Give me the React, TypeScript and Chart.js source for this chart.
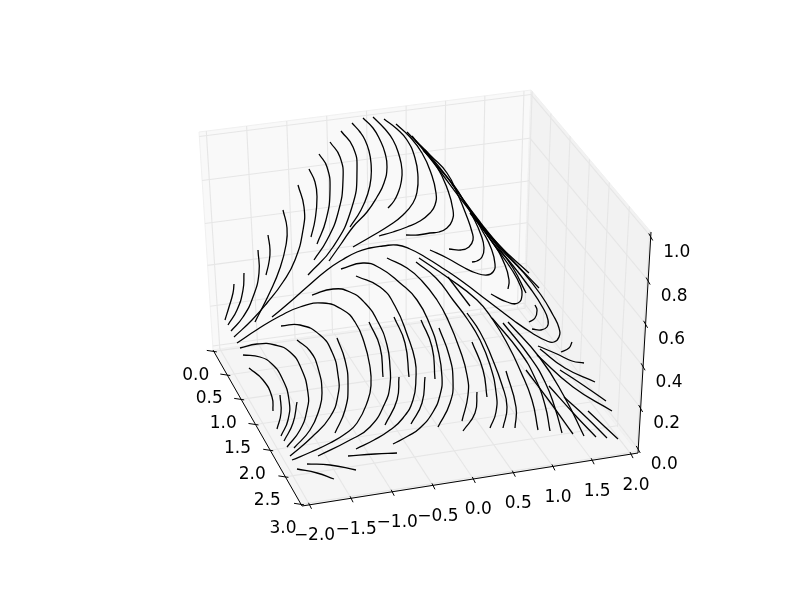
import React, { useEffect, useRef } from "react";
import { Chart, registerables } from "chart.js";

Chart.register(...registerables);

// Axis ticks
const xTicks = [0, 0.5, 1, 1.5, 2, 2.5, 3];
const yTicks = [-2, -1.5, -1, -0.5, 0, 0.5, 1, 1.5, 2];
const zTicks = [0, 0.2, 0.4, 0.6, 0.8, 1];
const xTickLabels = ["0.0", "0.5", "1.0", "1.5", "2.0", "2.5", "3.0"];
const yTickLabels = ["\u22122.0", "\u22121.5", "\u22121.0", "\u22120.5", "0.0", "0.5", "1.0", "1.5", "2.0"];
const zTickLabels = ["0.0", "0.2", "0.4", "0.6", "0.8", "1.0"];

type P = number[];

// Streamlines (projected coordinates)
const upperFan: P[][] = [
  [[225, 320], [229, 307], [233, 293], [234, 284]],
  [[228, 325], [237, 310], [243, 290], [244, 273]],
  [[231, 331], [243, 317], [253, 297], [259, 273], [258, 250]],
  [[234, 337], [252, 320], [267, 303], [283, 282], [295, 260], [303, 230], [304, 207], [298, 185]],
  [[255, 322], [270, 292], [280, 268], [286, 245], [287, 228], [283, 210]],
  [[266, 275], [269, 262], [270, 250], [268, 235]],
  [[309, 169], [315, 182], [317, 197], [315, 220], [311, 237]],
  [[319, 154], [327, 167], [330, 190], [326, 220], [317, 244]],
  [[330, 142], [340, 157], [343, 180], [338, 213], [327, 240], [314, 260]],
  [[341, 131], [353, 147], [357, 170], [352, 207], [333, 247], [308, 275]],
  [[352, 123], [360, 132], [365, 140], [369, 151], [371, 163], [371, 178], [368, 193], [361, 210], [350, 227]],
  [[363, 118], [373, 128], [380, 140], [385, 153], [387, 167], [384, 183], [377, 197], [367, 212], [353, 227], [341, 244], [329, 261]],
  [[373, 117], [384, 128], [393, 140], [399, 155], [402, 170], [401, 183], [398, 193], [394, 201], [388, 208]],
  [[384, 119], [397, 129], [407, 140], [415, 158], [418, 177], [417, 192], [413, 203], [403, 215], [390, 225], [372, 236], [353, 247]],
  [[396, 124], [410, 137], [422, 153], [431, 173], [436, 193], [435, 205], [430, 213], [420, 221], [407, 227], [393, 232], [379, 236]],
  [[407, 132], [423, 149], [437, 167], [447, 188], [453, 210], [452, 221], [447, 228], [439, 232], [430, 233], [418, 235], [406, 235]],
  [[415, 140], [431, 156], [447, 173], [458, 195], [467, 217], [472, 232], [473, 240], [469, 247], [461, 250], [449, 249]],
  [[423, 150], [439, 168], [455, 187], [465, 203], [473, 217], [481, 235], [484, 248], [482, 257], [477, 261], [472, 262]],
  [[430, 250], [447, 258], [463, 267], [476, 273], [487, 275], [493, 272], [495, 264], [491, 248], [483, 232], [470, 210], [447, 177], [425, 150]],
];

const ridge: P[][] = [
  [[412, 136], [433, 162], [467, 207], [497, 243], [529, 273]],
  [[452, 184], [480, 222], [505, 252], [539, 288]],
  [[470, 213], [493, 243], [505, 265], [509, 280], [508, 289]],
  [[470, 210], [495, 243], [513, 268], [526, 293]],
  [[475, 218], [495, 246], [512, 270], [520, 285], [522, 295], [518, 303], [507, 302], [491, 294]],
  [[467, 205], [493, 243], [510, 262], [530, 288], [543, 308], [548, 320], [547, 327], [541, 330], [532, 329]],
  [[535, 305], [537, 310], [535, 318], [529, 322]],
  [[572, 342], [569, 348], [561, 352]],
];

const bigArcs: P[][] = [
  [[272, 317], [290, 302], [307, 287], [327, 270], [342, 260], [357, 252], [370, 248], [383, 246], [397, 245], [410, 249], [425, 257], [444, 269], [463, 282], [488, 301], [513, 320], [532, 333], [547, 341], [554, 342], [559, 337], [559, 328], [553, 315], [541, 295], [523, 272], [500, 248], [470, 210]],
  [[237, 343], [258, 329], [280, 316], [300, 307], [323, 303], [343, 310], [355, 322], [364, 342], [370, 367], [371, 385], [368, 400], [357, 423], [345, 434], [330, 443], [311, 452], [292, 460]],
  [[281, 326], [300, 325], [320, 335], [332, 352], [338, 375], [338, 395], [330, 417], [312, 437], [290, 456]],
  [[297, 340], [310, 351], [318, 368], [322, 393], [319, 410], [310, 430], [294, 448]],
  [[240, 348], [257, 344], [275, 345], [290, 352], [301, 368], [308, 393], [307, 410], [300, 430], [287, 447]],
  [[243, 355], [260, 357], [272, 364], [282, 378], [289, 400], [288, 420], [281, 436]],
  [[249, 368], [263, 380], [272, 397], [273, 411]],
  [[280, 395], [281, 413], [277, 429]],
  [[297, 402], [293, 423], [284, 441]],
  [[337, 338], [345, 360], [348, 385], [345, 410], [335, 433]],
  [[312, 295], [333, 289], [350, 292], [365, 303], [378, 322], [387, 345], [390, 367], [390, 385], [385, 403], [370, 427], [350, 440], [318, 456]],
  [[356, 276], [380, 287], [395, 306], [408, 337], [415, 360], [416, 377], [413, 400], [403, 418], [390, 430], [374, 440], [356, 449]],
  [[341, 269], [363, 263], [380, 268], [400, 283], [417, 300], [430, 325], [438, 350], [442, 377], [440, 395], [433, 412], [420, 428], [408, 436], [393, 444]],
];

const lowerShort: P[][] = [
  [[369, 322], [380, 347], [383, 377]],
  [[394, 317], [405, 343], [409, 377]],
  [[421, 320], [432, 347], [435, 379]],
  [[439, 328], [449, 355], [453, 380], [450, 403], [438, 427]],
  [[399, 377], [397, 400], [385, 425]],
  [[425, 377], [422, 403], [411, 424]],
  [[477, 392], [475, 413], [463, 431]],
  [[472, 342], [483, 370], [487, 397]],
  [[448, 277], [470, 306]],
  [[506, 371], [516, 407], [515, 428]],
  [[348, 456], [375, 454], [397, 453]],
  [[307, 464], [330, 465], [356, 470]],
  [[297, 469], [317, 473], [334, 479]],
];

const lowerLong: P[][] = [
  [[387, 258], [407, 268], [422, 281], [437, 300], [448, 320], [460, 350], [467, 375], [468, 395], [462, 421]],
  [[416, 262], [436, 278], [453, 300], [468, 320], [480, 340], [490, 365], [496, 392], [496, 412], [490, 428]],
  [[467, 313], [480, 332], [492, 358], [502, 385], [507, 407], [503, 428]],
  [[419, 258], [447, 277], [477, 300], [493, 320], [508, 345], [520, 370], [532, 400], [538, 430]],
  [[492, 318], [520, 352], [535, 378], [545, 405], [550, 431]],
  [[503, 323], [530, 357], [545, 382], [555, 408], [562, 433]],
  [[526, 370], [550, 402], [573, 434]],
  [[508, 322], [540, 358], [565, 398], [584, 436]],
  [[549, 386], [575, 415], [596, 437]],
  [[564, 397], [587, 418], [607, 438]],
  [[588, 411], [604, 426], [618, 439]],
  [[538, 346], [557, 354], [572, 361], [584, 363]],
  [[537, 355], [573, 387], [612, 411]],
  [[540, 349], [565, 368], [595, 382]],
  [[560, 370], [580, 383], [606, 401]],
];

const streamlines = [...upperFan, ...ridge, ...bigArcs, ...lowerShort, ...lowerLong];

// Camera fit: where each face of the box lands on the page
const LIM = { x: [-0.03, 3.03], y: [-2.09, 2.09], z: [-0.02, 1.02] };
const floorQuad = [[213, 350], [302, 506], [638, 453], [524, 307]];
const backQuad = [[213, 350], [524, 307], [531, 90], [199, 132]];
const sideQuad = [[524, 307], [638, 453], [651, 232], [531, 90]];

function homography(q: number[][]) {
  const [[x0, y0], [x1, y1], [x2, y2], [x3, y3]] = q;
  const dx1 = x1 - x2, dx2 = x3 - x2, sx = x0 - x1 + x2 - x3;
  const dy1 = y1 - y2, dy2 = y3 - y2, sy = y0 - y1 + y2 - y3;
  const den = dx1 * dy2 - dx2 * dy1;
  const g = (sx * dy2 - dx2 * sy) / den;
  const h = (dx1 * sy - sx * dy1) / den;
  const a = x1 - x0 + g * x1, b = x3 - x0 + h * x3;
  const d = y1 - y0 + g * y1, e = y3 - y0 + h * y3;
  return (u: number, v: number) => {
    const w = g * u + h * v + 1;
    return { x: (a * u + b * v + x0) / w, y: (d * u + e * v + y0) / w };
  };
}

const nx = (v: number) => (v - LIM.x[0]) / (LIM.x[1] - LIM.x[0]);
const ny = (v: number) => (v - LIM.y[0]) / (LIM.y[1] - LIM.y[0]);
const nz = (v: number) => (v - LIM.z[0]) / (LIM.z[1] - LIM.z[0]);
const floorAt = homography(floorQuad);
const backAt = homography(backQuad);
const sideAt = homography(sideQuad);

const GRID = "#e6e6e6";
const lineDs = (data: any[], color: string, width: number, order: number, tension = 0) => ({
  data,
  showLine: true,
  borderColor: color,
  borderWidth: width,
  pointRadius: 0,
  tension,
  fill: false,
  order,
  clip: false as any,
});

function buildDatasets() {
  const out: any[] = [];
  for (const x of xTicks) {
    out.push(lineDs([floorAt(nx(x), 0), floorAt(nx(x), 1)], GRID, 1.1, 5));
    out.push(lineDs([sideAt(nx(x), 0), sideAt(nx(x), 1)], GRID, 1.1, 5));
  }
  for (const y of yTicks) {
    out.push(lineDs([floorAt(0, ny(y)), floorAt(1, ny(y))], GRID, 1.1, 5));
    out.push(lineDs([backAt(ny(y), 0), backAt(ny(y), 1)], GRID, 1.1, 5));
  }
  for (const z of zTicks) {
    out.push(lineDs([backAt(0, nz(z)), backAt(1, nz(z))], GRID, 1.1, 5));
    out.push(lineDs([sideAt(0, nz(z)), sideAt(1, nz(z))], GRID, 1.1, 5));
  }
  // Axis lines
  out.push(lineDs([floorAt(0, 0), floorAt(1, 0)], "#000", 1, 3));
  out.push(lineDs([floorAt(1, 0), floorAt(1, 1)], "#000", 1, 3));
  out.push(lineDs([sideAt(1, 0), sideAt(1, 1)], "#000", 1, 3));
  // Tick marks
  for (const x of xTicks) {
    const p = floorAt(nx(x), 0);
    out.push(lineDs([{ x: p.x - 7, y: p.y - 1 }, { x: p.x + 3, y: p.y + 0.5 }], "#000", 1, 3));
  }
  for (const y of yTicks) {
    const p = floorAt(1, ny(y));
    out.push(lineDs([{ x: p.x - 1, y: p.y - 2 }, { x: p.x + 2, y: p.y + 4 }], "#000", 1, 3));
  }
  for (const z of zTicks) {
    const p = sideAt(1, nz(z));
    out.push(lineDs([{ x: p.x - 2, y: p.y - 3 }, { x: p.x + 2, y: p.y + 4 }], "#000", 1, 3));
  }
  for (const s of streamlines) {
    out.push(lineDs(s.map(([x, y]) => ({ x, y })), "#000", 1.3, 1, 0.5));
  }
  return out;
}

const panesPlugin = {
  id: "panes",
  beforeDatasetsDraw(chart: any) {
    const { ctx, scales } = chart;
    const faces: [number[][], string][] = [
      [backQuad, "#f9f9f9"],
      [sideQuad, "#f2f2f2"],
      [floorQuad, "#f5f5f5"],
    ];
    ctx.save();
    for (const [q, color] of faces) {
      ctx.beginPath();
      q.forEach(([x, y], i) => {
        const px = scales.x.getPixelForValue(x);
        const py = scales.y.getPixelForValue(y);
        if (i === 0) ctx.moveTo(px, py);
        else ctx.lineTo(px, py);
      });
      ctx.closePath();
      ctx.fillStyle = color;
      ctx.strokeStyle = "#f0f0f0";
      ctx.lineWidth = 1;
      ctx.fill();
      ctx.stroke();
    }
    ctx.restore();
  },
};

const labelsPlugin = {
  id: "axisLabels",
  afterDatasetsDraw(chart: any) {
    const { ctx, scales } = chart;
    ctx.save();
    ctx.font = '17px "DejaVu Sans"';
    ctx.fillStyle = "#000";
    ctx.textAlign = "center";
    ctx.textBaseline = "middle";
    const put = (text: string, p: { x: number; y: number }, dx: number, dy: number) =>
      ctx.fillText(text, scales.x.getPixelForValue(p.x) + dx, scales.y.getPixelForValue(p.y) + dy);
    xTicks.forEach((x, i) => put(xTickLabels[i], floorAt(nx(x), 0), -18, 24));
    yTicks.forEach((y, i) => put(yTickLabels[i], floorAt(1, ny(y)), 5, 31));
    zTicks.forEach((z, i) => put(zTickLabels[i], sideAt(1, nz(z)), 26, 16));
    ctx.restore();
  },
};

export default function App() {
  const ref = useRef<HTMLCanvasElement>(null);
  useEffect(() => {
    const chart = new Chart(ref.current as HTMLCanvasElement, {
      type: "scatter",
      data: { datasets: buildDatasets() },
      options: {
        animation: false,
        responsive: false,
        layout: { padding: 0 },
        plugins: { legend: { display: false }, tooltip: { enabled: false } },
        scales: {
          x: { type: "linear", min: 0, max: 800, display: false },
          y: { type: "linear", min: 0, max: 600, reverse: true, display: false },
        },
      },
      plugins: [panesPlugin, labelsPlugin],
    } as any);
    return () => chart.destroy();
  }, []);
  return (
    <canvas
      ref={ref}
      width={800}
      height={600}
      style={{ position: "absolute", left: 0, top: 0, display: "block" }}
    />
  );
}
